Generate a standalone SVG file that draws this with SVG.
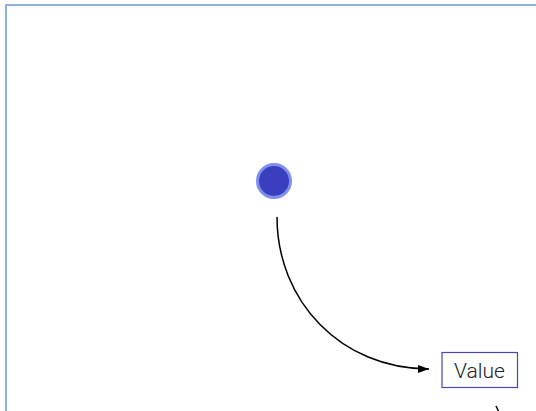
<svg xmlns="http://www.w3.org/2000/svg" width="536" height="411" viewBox="0 0 536 411">
<style>
.frame{fill:none;stroke:#6a9ad8;stroke-width:1.5}
.edge{fill:none;stroke:#000;stroke-width:1.5}
.node-box{fill:#fff;stroke:#4646c0;stroke-width:1.2}
.label{font-family:Roboto,"Liberation Sans",sans-serif;font-weight:300;font-size:21px;fill:#222}
</style>
<defs>
<marker id="arrow" markerUnits="userSpaceOnUse" markerWidth="12" markerHeight="9" refX="11" refY="4" orient="auto">
<path d="M0,0 L11,4 L0,8 z" fill="#000"/>
</marker>
</defs>
<rect class="frame" x="6" y="5" width="600" height="500"/>
<g id="connectors">
<path class="edge" d="M277,217 C277,301 341,369 429,369" marker-end="url(#arrow)"/>
<path class="edge" d="M496,406 L498.5,411"/>
</g>
<g id="node-dot">
<circle cx="274" cy="181" r="16.5" fill="#3a3fbf" stroke="#7f8ff0" stroke-width="3"/>
</g>
<g id="node-value">
<rect class="node-box" x="442" y="352.5" width="75.5" height="35"/>
<text class="label" x="479.5" y="378" text-anchor="middle">Value</text>
</g>
</svg>
